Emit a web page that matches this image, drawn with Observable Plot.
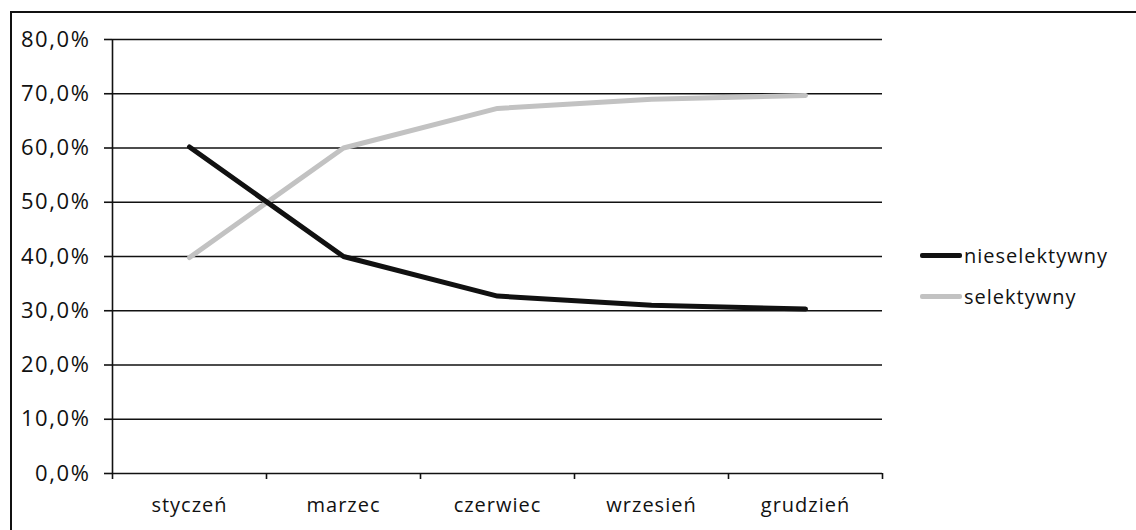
<!DOCTYPE html>
<html><head><meta charset="utf-8">
<script src="https://cdn.jsdelivr.net/npm/d3@7"></script>
<script src="https://cdn.jsdelivr.net/npm/@observablehq/plot@0.6"></script>
<style>
html,body{margin:0;padding:0;background:#fff;}
#wrap{position:relative;width:1136px;height:530px;overflow:hidden;}
#frame{position:absolute;left:10px;top:11px;right:-5px;bottom:-5px;border-left:2px solid #111;border-top:2px solid #111;}
#chart{position:absolute;left:0;top:0;}
#chart svg text{letter-spacing:1px;}
#chart svg g[aria-label="y-axis tick label"] text{letter-spacing:1.6px;}
#legend{position:absolute;left:920px;top:235px;font-family:"Open Sans",sans-serif;font-size:20px;letter-spacing:1px;color:#111;}
.li{display:flex;align-items:center;height:41px;}
.sw{width:42px;height:5px;margin-right:2px;border-radius:2px;}
</style></head>
<body><div id="wrap"><div id="frame"></div><div id="chart"></div><div id="legend"></div></div>
<script>
const months = ["styczeń","marzec","czerwiec","wrzesień","grudzień"];
const nieselektywny = [0.602, 0.40, 0.327, 0.31, 0.303];
const selektywny = [0.398, 0.60, 0.673, 0.69, 0.697];
const yTicks = [0,0.1,0.2,0.3,0.4,0.5,0.6,0.7,0.8];
const seriesNames = ["nieselektywny","selektywny"];
const seriesColors = ["#111111","#c2c2c2"];

const fmt = v => (v*100).toFixed(1).replace(".", ",") + "%";
const idx = months.map((m,i)=>i+0.5);
const rows = [];
months.forEach((m,i)=>{
  rows.push({s:seriesNames[0], x:idx[i], y:nieselektywny[i]});
  rows.push({s:seriesNames[1], x:idx[i], y:selektywny[i]});
});

const plot = Plot.plot({
  width:1136, height:530,
  marginLeft:112, marginRight:254, marginTop:39, marginBottom:57,
  style:{fontFamily:"'Open Sans', sans-serif", fontSize:"20px", color:"#111", background:"transparent"},
  x:{type:"linear", domain:[0, months.length]},
  y:{domain:[0,0.8]},
  marks:[
    Plot.ruleY(yTicks, {stroke:"#111", strokeWidth:1.6}),
    Plot.axisY({ticks:yTicks, tickFormat:fmt, tickSize:8, tickPadding:14, stroke:"#111", strokeWidth:1.6, fontSize:22, label:null}),
    Plot.ruleX([0], {y1:0, y2:0.8, stroke:"#111", strokeWidth:1.6}),
    Plot.axisX({ticks:d3.range(months.length+1), tickFormat:()=>"", tickSize:6, stroke:"#111", strokeWidth:1.6, label:null}),
    Plot.axisX({ticks:idx, tickFormat:(d,i)=>months[Math.floor(d)], tickSize:0, tickPadding:24, fontSize:20, label:null}),
    Plot.line(rows.filter(d=>d.s===seriesNames[1]), {x:"x", y:"y", stroke:seriesColors[1], strokeWidth:5, strokeLinejoin:"round", strokeLinecap:"round"}),
    Plot.line(rows.filter(d=>d.s===seriesNames[0]), {x:"x", y:"y", stroke:seriesColors[0], strokeWidth:5, strokeLinejoin:"round", strokeLinecap:"round"})
  ]
});
document.getElementById("chart").appendChild(plot);

const lg = document.getElementById("legend");
seriesNames.forEach((n,i)=>{
  const d = document.createElement("div"); d.className="li";
  d.innerHTML = `<span class="sw" style="background:${seriesColors[i]}"></span><span>${n}</span>`;
  lg.appendChild(d);
});
</script></body></html>
